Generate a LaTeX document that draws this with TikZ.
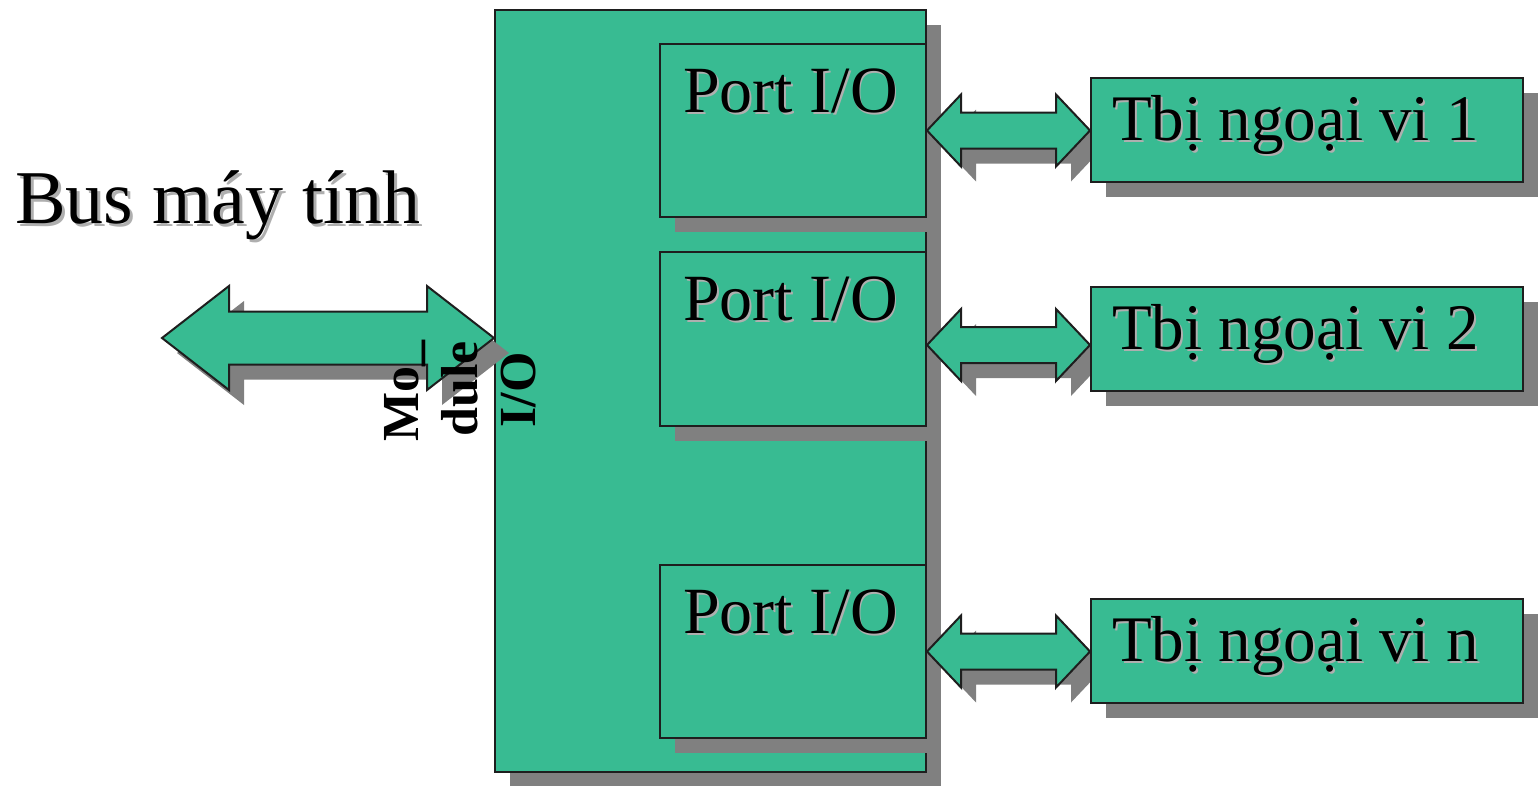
\documentclass[tikz,border=0pt]{standalone}
\usepackage{fontspec}
\setmainfont{Liberation Serif}
\usetikzlibrary{calc,shadows}

\definecolor{boxgreen}{RGB}{56,187,146}
\definecolor{edgeline}{RGB}{30,30,30}
\definecolor{shade}{RGB}{128,128,128}
\definecolor{txtshade}{RGB}{175,175,175}

\pgfdeclarelayer{back}
\pgfdeclarelayer{mid}
\pgfsetlayers{back,mid,main}

% text with a soft grey copy offset down-right
\newcommand\shadowtext[2][2pt]{\leavevmode\rlap{\hspace{#1}\raisebox{-#1}{\textcolor{txtshade}{#2}}}#2}

% double-headed block arrow with drop shadow:
% #1 left tip, #2 right tip, #3 head length, #4 head half-height, #5 shaft half-height
\newcommand\dblarrow[5]{%
  \foreach \dx/\dy/\sty in {15pt/-15pt/arrowshadow,0pt/0pt/arrowbody}{%
    \path[\sty] let \p1=(#1), \p2=(#2) in
      (\x1+\dx,\y1+\dy)
      -- (\x1+#3+\dx,\y1+#4+\dy) -- (\x1+#3+\dx,\y1+#5+\dy)
      -- (\x2-#3+\dx,\y2+#5+\dy) -- (\x2-#3+\dx,\y2+#4+\dy)
      -- (\x2+\dx,\y2+\dy)
      -- (\x2-#3+\dx,\y2-#4+\dy) -- (\x2-#3+\dx,\y2-#5+\dy)
      -- (\x1+#3+\dx,\y1-#5+\dy) -- (\x1+#3+\dx,\y1-#4+\dy)
      -- cycle;
  }%
}

\tikzset{
  box/.style={rectangle, draw=edgeline, line width=2pt, fill=boxgreen,
    inner sep=0pt, anchor=north west,
    drop shadow={shadow xshift=15pt, shadow yshift=-15pt, fill=shade, opacity=1}},
  portbox/.style={box, minimum width=266pt},
  devbox/.style={box, minimum width=432pt, minimum height=104pt},
  arrowshadow/.style={fill=shade},
  arrowbody/.style={fill=boxgreen, draw=edgeline, line width=2pt, line join=miter},
  porttext/.style={anchor=base west, inner sep=0pt, font=\fontsize{66}{70}\selectfont},
  devtext/.style={anchor=base west, inner sep=0pt, font=\fontsize{65}{70}\selectfont},
  bustext/.style={anchor=base west, inner sep=0pt, font=\fontsize{76}{80}\selectfont},
  modtext/.style={anchor=base, rotate=90, inner sep=0pt, font=\bfseries\fontsize{52}{58}\selectfont},
}

\begin{document}
\begin{tikzpicture}[x=1pt, y=-1pt]
  \useasboundingbox (0,0) rectangle (1538,785);

  % I/O module with its ports
  \begin{pgfonlayer}{back}
    \node[box, minimum width=431pt, minimum height=762pt] (module) at (494,9) {};
    \node[portbox, minimum height=173pt] (port1) at (659,43) {};
    \node[portbox, minimum height=174pt] (port2) at (659,251) {};
    \node[portbox, minimum height=173pt] (port3) at (659,564) {};
  \end{pgfonlayer}

  % peripheral devices
  \node[devbox] (dev1) at (1090,77) {};
  \node[devbox] (dev2) at (1090,286) {};
  \node[devbox] (dev3) at (1090,598) {};

  % port and device labels
  \node[porttext] (port1t) at ($(port1.north west)+(24,69)$) {\shadowtext{Port I/O}};
  \node[porttext] (port2t) at ($(port2.north west)+(24,69)$) {\shadowtext{Port I/O}};
  \node[porttext] (port3t) at ($(port3.north west)+(24,69)$) {\shadowtext{Port I/O}};
  \node[devtext] (dev1t) at ($(dev1.north west)+(22,63)$) {\shadowtext{Tbị ngoại vi 1}};
  \node[devtext] (dev2t) at ($(dev2.north west)+(22,63)$) {\shadowtext{Tbị ngoại vi 2}};
  \node[devtext] (dev3t) at ($(dev3.north west)+(22,63)$) {\shadowtext{Tbị ngoại vi n}};

  % system bus label
  \node[bustext] (bus) at (15,223) {\shadowtext[3pt]{Bus máy tính}};

  % connectors
  \coordinate (busL) at (162,338);
  \coordinate (busR) at (module.west |- busL);
  \coordinate (a2L) at ($(port2.east)+(0,6)$);
  \coordinate (a2R) at (dev2.west |- a2L);
  \begin{pgfonlayer}{mid}
    \dblarrow{busL}{busR}{67pt}{52pt}{26.5pt}
    \dblarrow{port1.east}{dev1.west |- port1.east}{34pt}{36pt}{18pt}
    \dblarrow{a2L}{a2R}{34pt}{36pt}{18pt}
    \dblarrow{port3.east}{dev3.west |- port3.east}{34pt}{36pt}{18pt}
  \end{pgfonlayer}

  % rotated module caption
  \node[modtext] (modA) at (418,391) {Mo\_};
  \node[modtext] (modB) at (477,389) {dule};
  \node[modtext] (modC) at (535,390) {I/O};
\end{tikzpicture}
\end{document}
